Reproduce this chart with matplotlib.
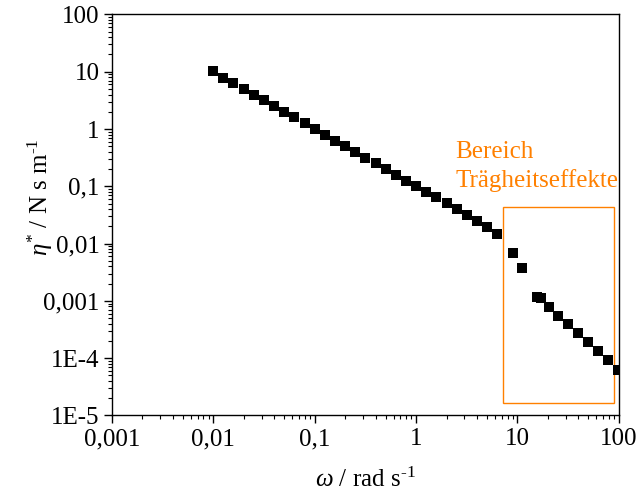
import matplotlib
matplotlib.use("Agg")
import matplotlib.pyplot as plt
from matplotlib.ticker import FixedLocator, FixedFormatter, LogLocator, NullFormatter
from matplotlib.patches import Rectangle

plt.rcParams['font.family'] = ['Liberation Serif', 'DejaVu Serif']
plt.rcParams['mathtext.fontset'] = 'custom'
plt.rcParams['mathtext.rm'] = 'Liberation Serif'
plt.rcParams['mathtext.it'] = 'Liberation Serif:italic'

# Data: angular frequency omega (rad/s) and complex viscosity eta* (N s m^-1)
omega_low = [0.01, 0.0126, 0.0158, 0.02, 0.0251, 0.0316, 0.0398, 0.0501, 0.0631, 0.0794,
             0.1, 0.126, 0.158, 0.2, 0.251, 0.316, 0.398, 0.501, 0.631, 0.794,
             1.0, 1.26, 1.58, 2.0, 2.51, 3.16, 3.98, 5.01, 6.31]
eta_low = [10.3, 7.8, 6.25, 5.0, 4.0, 3.18, 2.53, 2.01, 1.60, 1.26,
           0.99, 0.79, 0.627, 0.502, 0.398, 0.316, 0.253, 0.201, 0.158, 0.126,
           0.100, 0.0797, 0.064, 0.0506, 0.0398, 0.0316, 0.0247, 0.0191, 0.0145]
omega_high = [9.0, 11.0, 15.6, 17.1, 20.3, 24.9, 31.2, 39.2, 49.1, 61.7, 77.4, 98.0]
eta_high = [0.00695, 0.00372, 0.00116, 0.00111, 0.000775, 0.000553, 0.000391,
            0.000272, 0.00019, 0.000134, 9.2e-5, 6.2e-5]

x_ticks = [0.001, 0.01, 0.1, 1, 10, 100]
x_labels = ['0,001', '0,01', '0,1', '1', '10', '100']
y_ticks = [1e-5, 1e-4, 1e-3, 1e-2, 1e-1, 1, 10, 100]
y_labels = ['1E-5', '1E-4', '0,001', '0,01', '0,1', '1', '10', '100']

region_x = [7.16, 89.0]
region_y = [1.67e-5, 0.0442]
region_text = 'Bereich\nTrägheitseffekte'
orange = '#FF8000'

fig = plt.figure(figsize=(6.36, 4.97), dpi=100)
ax = fig.add_axes([0.176, 0.164, 0.797, 0.807])
ax.set_xscale('log')
ax.set_yscale('log')

ax.plot(omega_low + omega_high, eta_low + eta_high, linestyle='none', marker='s',
        markersize=7, color='black', markeredgewidth=0)

ax.add_patch(Rectangle((region_x[0], region_y[0]), region_x[1] - region_x[0],
                       region_y[1] - region_y[0], fill=False, edgecolor=orange, linewidth=1.0))
ax.text(0.677, 0.621, region_text, transform=ax.transAxes, color=orange, fontsize=18,
        ha='left', va='center', linespacing=1.3)

ax.set_xlim(0.001, 100)
ax.set_ylim(1e-5, 100)
ax.xaxis.set_major_locator(FixedLocator(x_ticks))
ax.xaxis.set_major_formatter(FixedFormatter(x_labels))
ax.yaxis.set_major_locator(FixedLocator(y_ticks))
ax.yaxis.set_major_formatter(FixedFormatter(y_labels))
ax.xaxis.set_minor_locator(LogLocator(base=10, subs=range(2, 10), numticks=20))
ax.yaxis.set_minor_locator(LogLocator(base=10, subs=range(2, 10), numticks=20))
ax.xaxis.set_minor_formatter(NullFormatter())
ax.yaxis.set_minor_formatter(NullFormatter())

ax.tick_params(which='major', direction='out', length=6, width=1.0, labelsize=18, pad=3)
ax.tick_params(which='minor', direction='out', length=3, width=0.8)
for s in ax.spines.values():
    s.set_linewidth(1.0)

ax.set_xlabel(r'$\omega$ / rad s$^{\text{-1}}$', fontsize=18, labelpad=13)
ax.set_ylabel(r'$\eta^{*}$ / N s m$^{\text{-1}}$', fontsize=18)
ax.yaxis.set_label_coords(-0.113, 0.545)

fig.savefig('out.png', dpi=100)
